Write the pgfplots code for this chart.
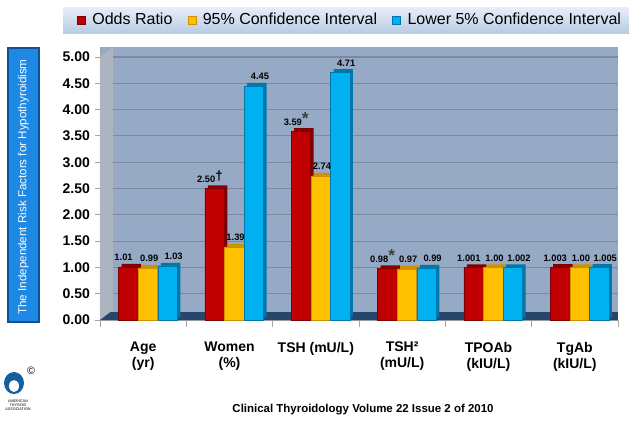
\documentclass[border=0pt]{standalone}
\usepackage{pgfplots}
\pgfplotsset{compat=1.18}
\usepackage{fontspec}
\setmainfont{Liberation Sans}

\definecolor{wallc}{RGB}{150,170,197}
\definecolor{sidec}{RGB}{172,180,192}
\definecolor{gridc}{RGB}{122,138,162}
\definecolor{floorc}{RGB}{40,70,108}
\definecolor{barred}{RGB}{192,0,0}
\definecolor{redside}{RGB}{130,0,0}
\definecolor{baryel}{RGB}{255,192,0}
\definecolor{yelside}{RGB}{205,145,0}
\definecolor{barcyan}{RGB}{0,176,240}
\definecolor{cyanside}{RGB}{0,118,170}
\definecolor{boxblue}{RGB}{30,136,229}

\begin{document}
\begin{tikzpicture}
\path[use as bounding box] (0pt,0pt) rectangle (471.75pt,-316.5pt);

% legend box, under the axis
\begin{scope}[x=0.75pt, y=-0.75pt]
\shade[top color={rgb,255:red,232;green,238;blue,248}, bottom color={rgb,255:red,184;green,204;blue,228}] (63,7) rectangle (629,33);
\end{scope}

\begin{axis}[
    at={(75pt,-240pt)}, anchor=south west,
    scale only axis, width=388.5pt, height=204.75pt,
    xmin=-0.5, xmax=5.5, ymin=0, ymax=5.19,
    ybar, bar width=0.225,
    axis background/.style={fill=wallc},
    axis x line*=bottom, axis y line*=left,
    axis line style={draw=gray!70, line width=0.6pt},
    tick align=outside, tick pos=left,
    ytick={0,0.5,...,5},
    yticklabel style={/pgf/number format/.cd, fixed, fixed zerofill, precision=2, assume math mode=true},
    ticklabel style={font=\bfseries\fontsize{10.5}{12}\selectfont},
    major tick length=4pt,
    ymajorgrids, grid style={draw=gridc, line width=0.8pt},
    xtick={0,...,5},
    xticklabels={Age\\(yr), Women\\(\%), TSH (mU/L), TSH²\\(mU/L), TPOAb\\(kIU/L), TgAb\\(kIU/L)},
    xticklabel style={align=center, yshift=-9pt},
    major x tick style={draw=none},
    minor xtick={-0.5,0.5,...,5.5},
    minor x tick style={draw=gray!70, line width=0.6pt},
    minor tick length=5pt,
    y tick style={draw=gray!70, line width=0.6pt},
    point meta=explicit symbolic,
    nodes near coords style={font=\bfseries\fontsize{7}{8}\selectfont, text=black, yshift=1pt},
    legend columns=3,
    legend style={at={(-0.052,1.099)}, anchor=west, draw=none, fill=none,
        font=\fontsize{12}{14}\selectfont,
        /tikz/every even column/.append style={column sep=9.5pt}},
    legend image code/.code={\fill[#1] (0pt,-3pt) rectangle (6pt,3pt); \path (9pt,0pt);},
]

% floor and left side wall
\fill[sidec] (axis cs:-0.5,0) -- (axis cs:-0.35,0.15) -- (axis cs:-0.35,5.19) -- (axis cs:-0.5,5.0) -- cycle;
\fill[floorc] (axis cs:-0.5,0) -- (axis cs:5.5,0) -- (axis cs:5.62,0.15) -- (axis cs:-0.38,0.15) -- cycle;

% shaded sides of the bars
\addplot[fill=redside, draw=none, bar shift=-0.173, xshift=2.25pt, yshift=2.25pt, forget plot]
  coordinates {(0,1.01) (1,2.50) (2,3.59) (3,0.98) (4,1.001) (5,1.003)};
\addplot[fill=yelside, draw=none, bar shift=0.055, xshift=2.25pt, yshift=2.25pt, forget plot]
  coordinates {(0,0.99) (1,1.39) (2,2.74) (3,0.97) (4,1.00) (5,1.00)};
\addplot[fill=cyanside, draw=none, bar shift=0.283, xshift=2.25pt, yshift=2.25pt, forget plot]
  coordinates {(0,1.03) (1,4.45) (2,4.71) (3,0.99) (4,1.002) (5,1.005)};

% bars
\addplot[fill=barred, draw=redside, line width=0.3pt, bar shift=-0.173, nodes near coords,
    nodes near coords style={xshift=-3.5pt}]
  coordinates {(0,1.01) [1.01] (1,2.50) [{2.50\raisebox{1.5pt}{\fontsize{10}{10}\selectfont\dag}}] (2,3.59) [{3.59\raisebox{0.5pt}{\textcolor{gray!50!black}{\fontsize{13}{13}\selectfont *}}}] (3,0.98) [{0.98\raisebox{0.5pt}{\textcolor{gray!50!black}{\fontsize{13}{13}\selectfont *}}}] (4,1.001) [1.001] (5,1.003) [1.003]};
\addlegendentry{Odds Ratio}
\addplot[fill=baryel, draw=yelside, line width=0.3pt, bar shift=0.055, nodes near coords,
    nodes near coords style={xshift=1pt}]
  coordinates {(0,0.99) [0.99] (1,1.39) [1.39] (2,2.74) [2.74] (3,0.97) [0.97] (4,1.00) [1.00] (5,1.00) [1.00]};
\addlegendentry{95\% Confidence Interval}
\addplot[fill=barcyan, draw=cyanside, line width=0.3pt, bar shift=0.283, nodes near coords,
    nodes near coords style={xshift=4.5pt}]
  coordinates {(0,1.03) [1.03] (1,4.45) [4.45] (2,4.71) [4.71] (3,0.99) [0.99] (4,1.002) [1.002] (5,1.005) [1.005]};
\addlegendentry{Lower 5\% Confidence Interval}
\end{axis}

\begin{scope}[x=0.75pt, y=-0.75pt]
% y label box
\fill[boxblue, draw={rgb,255:red,20;green,80;blue,150}, line width=0.8pt] (8,48) rectangle (39,322);
\node[rotate=90, text=white, font=\fontsize{8.7}{10}\selectfont] at (23.5,187) {The Independent Risk Factors for Hypothyroidism};
% footer
\node[font=\bfseries\fontsize{8.6}{10}\selectfont] at (363,410) {Clinical Thyroidology Volume 22 Issue 2 of 2010};
% logo
\fill[boxblue!70!black] (14,383) ellipse (10 and 11);
\fill[white] (14,386) ellipse (5 and 6);
\node[font=\fontsize{8}{8}\selectfont] at (31,371) {\textcopyright};
\node[font=\fontsize{2.8}{3.2}\selectfont, align=center, inner sep=0pt] at (18,405) {AMERICAN\\THYROID\\ASSOCIATION};
\end{scope}
\end{tikzpicture}
\end{document}
